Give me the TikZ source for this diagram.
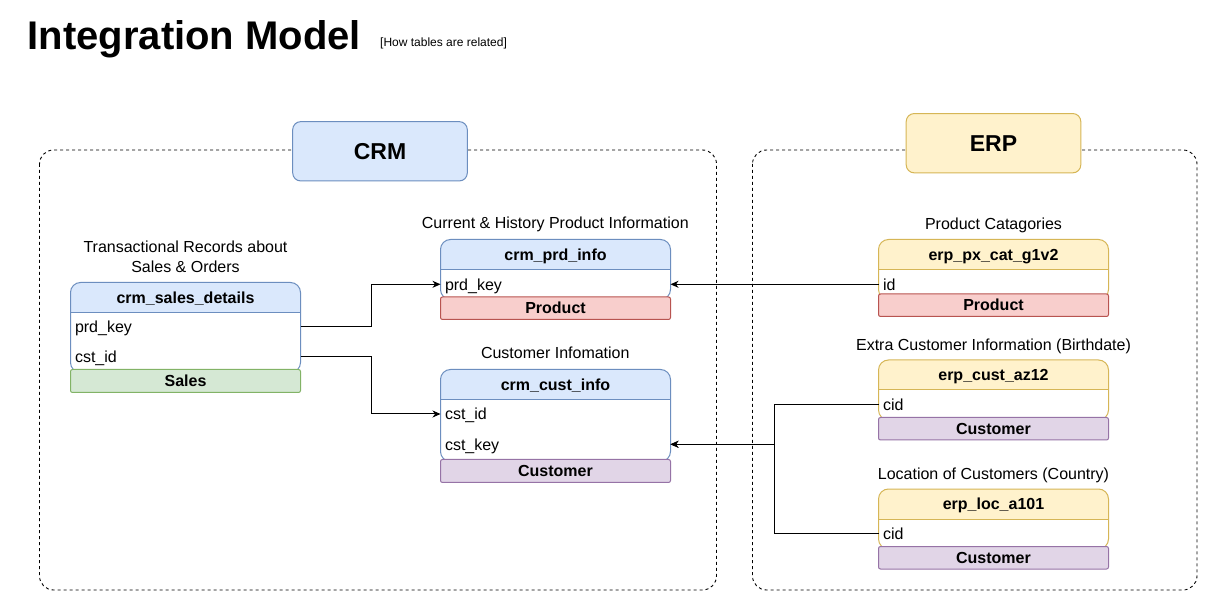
\documentclass[tikz,border=0pt]{standalone}
\usepackage{fontspec}
\setmainfont{Liberation Sans}
\usetikzlibrary{arrows.meta}
\definecolor{bluef}{HTML}{DAE8FC}\definecolor{blues}{HTML}{6C8EBF}
\definecolor{yelf}{HTML}{FFF2CC}\definecolor{yels}{HTML}{D6B656}
\definecolor{grnf}{HTML}{D5E8D4}\definecolor{grns}{HTML}{82B366}
\definecolor{redf}{HTML}{F8CECC}\definecolor{reds}{HTML}{B85450}
\definecolor{purf}{HTML}{E1D5E7}\definecolor{purs}{HTML}{9673A6}
\newcommand\mkdbtable[7]{%
  \node[tbody, minimum height=#4pt, anchor=north west] (#1) at (#2,#3) {};
  \begin{scope}
    \clip[rounded corners=10pt] (#1.south west) rectangle (#1.north east);
    \fill[#5] (#1.north west) rectangle ([yshift=-30pt]#1.north east);
  \end{scope}
  \draw[#6, line width=1pt, rounded corners=10pt] (#1.south west) rectangle (#1.north east);
  \draw[#6, line width=1pt] ([yshift=-30pt]#1.north west) -- ([yshift=-30pt]#1.north east);
  \node[hdrtxt] (#1-h) at ([yshift=-15pt]#1.north) {#7};
}
\begin{document}
\begin{tikzpicture}[x=1pt,y=-1pt,
  tbody/.style={rectangle, rounded corners=10pt, fill=white, minimum width=230pt, inner sep=0pt, outer sep=0pt},
  hdrtxt/.style={inner sep=0pt, font=\bfseries\fontsize{16}{19}\selectfont, text height=11.5pt, text depth=0pt},
  rowtxt/.style={anchor=west, inner xsep=4.5pt, inner ysep=0pt, outer sep=0pt, text width=221pt, align=left,
    font=\fontsize{16}{19}\selectfont, text height=11.5pt, text depth=0pt},
  bar/.style={anchor=north west, rectangle, rounded corners=2pt, line width=1pt, minimum width=230pt,
    inner sep=0pt, outer sep=0pt, font=\bfseries\fontsize{16}{19}\selectfont, text height=11.5pt, text depth=0pt},
  lbl/.style={anchor=base, inner sep=0pt, align=center, font=\fontsize{16}{20}\selectfont},
  grp/.style={draw, dash pattern=on 3pt off 3pt, line width=0.9pt, rounded corners=14pt},
  sect/.style={rectangle, rounded corners=8pt, line width=1pt, minimum width=174.6pt, minimum height=59.3pt,
    inner sep=0pt, font=\bfseries\fontsize{23}{28}\selectfont},
  conn/.style={draw, line width=1pt, -{Stealth[length=8pt,width=7pt,inset=2.5pt]}}
]
\useasboundingbox (0,0) rectangle (1208,601);
\fill[white] (0,0) rectangle (1208,601);

% title
\node[anchor=base west, inner sep=0pt, font=\bfseries\fontsize{40}{48}\selectfont] (title) at (27.5,49.3) {Integration Model};
\node[anchor=base west, inner sep=0pt, font=\fontsize{12}{14}\selectfont] (subtitle) at (380,47) {[How tables are related]};

% groups
\draw[grp] (39.5,150) rectangle (716.5,590);
\draw[grp] (752.5,150) rectangle (1197,590);
\node[sect, fill=bluef, draw=blues] (crm) at (380,151.3) {CRM};
\node[sect, fill=yelf, draw=yels] (erp) at (993.5,143.2) {ERP};

% labels
\node[lbl] (sd-lbl) at (185.5,272.3) {Transactional Records about\\Sales \& Orders};
\node[lbl] (pi-lbl) at (555.3,229) {Current \& History Product Information};
\node[lbl] (ci-lbl) at (555.3,359) {Customer Infomation};
\node[lbl] (px-lbl) at (993.5,229.3) {Product Catagories};
\node[lbl] (az-lbl) at (993.5,350.7) {Extra Customer Information (Birthdate)};
\node[lbl] (loc-lbl) at (993.5,479.3) {Location of Customers (Country)};

% crm_sales_details
\mkdbtable{sd}{70.5}{282.5}{90}{bluef}{blues}{crm\_sales\_details}
\node[rowtxt] (sd-prd) at (70.5,327) {prd\_key};
\node[rowtxt] (sd-cst) at (70.5,357) {cst\_id};
\node[bar, fill=grnf, draw=grns, minimum height=23pt] (sd-bar) at (70.5,369.5) {Sales};

% crm_prd_info
\mkdbtable{pi}{440.5}{239.5}{60}{bluef}{blues}{crm\_prd\_info}
\node[rowtxt] (pi-prd) at (440.5,284.3) {prd\_key};
\node[bar, fill=redf, draw=reds, minimum height=22.5pt] (pi-bar) at (440.5,297) {Product};

% crm_cust_info
\mkdbtable{ci}{440.5}{369.5}{92}{bluef}{blues}{crm\_cust\_info}
\node[rowtxt] (ci-id) at (440.5,414) {cst\_id};
\node[rowtxt] (ci-key) at (440.5,444.3) {cst\_key};
\node[bar, fill=purf, draw=purs, minimum height=23pt] (ci-bar) at (440.5,459.5) {Customer};

% erp_px_cat_g1v2
\mkdbtable{px}{878.5}{239.5}{60}{yelf}{yels}{erp\_px\_cat\_g1v2}
\node[rowtxt] (px-id) at (878.5,284.3) {id};
\node[bar, fill=redf, draw=reds, minimum height=22.5pt] (px-bar) at (878.5,294) {Product};

% erp_cust_az12
\mkdbtable{az}{878.5}{360}{60}{yelf}{yels}{erp\_cust\_az12}
\node[rowtxt] (az-cid) at (878.5,404.5) {cid};
\node[bar, fill=purf, draw=purs, minimum height=22.5pt] (az-bar) at (878.5,417.5) {Customer};

% erp_loc_a101
\mkdbtable{loc}{878.5}{489}{60}{yelf}{yels}{erp\_loc\_a101}
\node[rowtxt] (loc-cid) at (878.5,533.5) {cid};
\node[bar, fill=purf, draw=purs, minimum height=22.5pt] (loc-bar) at (878.5,546.5) {Customer};

% connectors
\draw[conn] (sd-prd.east) -- ++(70.5,0) |- (pi-prd.west);
\draw[conn] (sd-cst.east) -- ++(70.5,0) |- (ci-id.west);
\draw[conn] (px-id.west) -- (pi-prd.east);
\draw[conn] (az-cid.west) -- ++(-104,0) |- (ci-key.east);
\draw[conn] (loc-cid.west) -- ++(-104,0) |- (ci-key.east);
\end{tikzpicture}
\end{document}
